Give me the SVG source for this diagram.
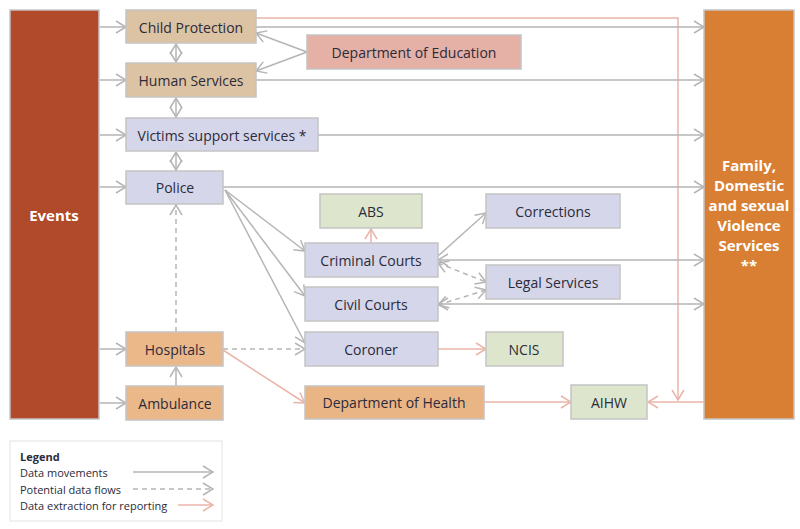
<svg xmlns="http://www.w3.org/2000/svg" width="800" height="529" viewBox="0 0 800 529">
<style>
text{font-family:"Open Sans","Noto Sans",sans-serif;font-size:14px;fill:#2b2b3a;text-anchor:middle;dominant-baseline:central}
.n{stroke:#c4c4c4;stroke-width:1.5}
.g{stroke:#b5b5b5;stroke-width:1.5;fill:none}
.d{stroke:#b5b5b5;stroke-width:1.5;fill:none;stroke-dasharray:5 4}
.p{stroke:#eab5a8;stroke-width:1.5;fill:none}
.big{fill:#fff;font-weight:bold;font-size:15px}
.lg{font-size:11px;text-anchor:start}
</style>
<defs>
<marker id="a" markerWidth="12" markerHeight="14" refX="11" refY="7" orient="auto-start-reverse" markerUnits="userSpaceOnUse"><path d="M1,1 L11,7 L1,13" fill="none" stroke="#b5b5b5" stroke-width="1.5"/></marker>
<marker id="ap" markerWidth="12" markerHeight="14" refX="11" refY="7" orient="auto-start-reverse" markerUnits="userSpaceOnUse"><path d="M1,1 L11,7 L1,13" fill="none" stroke="#eab5a8" stroke-width="1.5"/></marker>
</defs>
<g id="events"><rect class="n" x="10" y="10" width="89" height="409" fill="#b04a2a"/><text class="big" x="54" y="215">Events</text></g>
<g id="fdsv"><rect class="n" x="704" y="10" width="90" height="409" fill="#d97f33"/>
<text class="big" x="749" y="165">Family,</text><text class="big" x="749" y="185">Domestic</text><text class="big" x="749" y="205">and sexual</text><text class="big" x="749" y="225">Violence</text><text class="big" x="749" y="245">Services</text><text class="big" x="749" y="265">**</text></g>
<g id="connectors">
<path class="p" d="M256,18 H678 V400" marker-end="url(#ap)"/>
<path class="g" d="M100,27 H126" marker-end="url(#a)"/>
<path class="g" d="M100,80 H126" marker-end="url(#a)"/>
<path class="g" d="M100,135 H126" marker-end="url(#a)"/>
<path class="g" d="M100,187 H126" marker-end="url(#a)"/>
<path class="g" d="M100,349 H126" marker-end="url(#a)"/>
<path class="g" d="M100,403 H126" marker-end="url(#a)"/>
<path class="g" d="M256,27 H704" marker-end="url(#a)"/>
<path class="g" d="M256,80 H704" marker-end="url(#a)"/>
<path class="g" d="M318,135 H704" marker-end="url(#a)"/>
<path class="g" d="M223,187 H704" marker-end="url(#a)"/>
<path class="g" d="M438,260 H704" marker-start="url(#a)" marker-end="url(#a)"/>
<path class="g" d="M438,304 H704" marker-start="url(#a)" marker-end="url(#a)"/>
<path class="g" d="M307,52 L256,33" marker-end="url(#a)"/>
<path class="g" d="M307,52 L256,71" marker-end="url(#a)"/>
<path class="g" d="M176,44 V62" marker-start="url(#a)" marker-end="url(#a)"/>
<path class="g" d="M176,98 V117" marker-start="url(#a)" marker-end="url(#a)"/>
<path class="g" d="M176,152 V170" marker-start="url(#a)" marker-end="url(#a)"/>
<path class="g" d="M225,190 L305,251" marker-end="url(#a)"/>
<path class="g" d="M225,190 L305,296" marker-end="url(#a)"/>
<path class="g" d="M225,190 L305,343" marker-end="url(#a)"/>
<path class="d" d="M176,332 V205" marker-end="url(#a)"/>
<path class="g" d="M176,386 V367" marker-end="url(#a)"/>
<path class="d" d="M223,349 H305" marker-end="url(#a)"/>
<path class="p" d="M223,350 L305,403" marker-end="url(#ap)"/>
<path class="p" d="M371,243 V229" marker-end="url(#ap)"/>
<path class="g" d="M438,256 L486,213" marker-end="url(#a)"/>
<path class="d" d="M438,263 L486,282" marker-start="url(#a)" marker-end="url(#a)"/>
<path class="d" d="M438,305 L486,290" marker-start="url(#a)" marker-end="url(#a)"/>
<path class="p" d="M438,349 H486" marker-end="url(#ap)"/>
<path class="p" d="M484,402 H571" marker-end="url(#ap)"/>
<path class="p" d="M704,402 H648" marker-end="url(#ap)"/>
</g>
<g id="child"><rect class="n" x="126" y="10" width="130" height="33" fill="#dcc3a3"/><text x="191" y="27">Child Protection</text></g>
<g id="human"><rect class="n" x="126" y="63" width="130" height="34" fill="#dcc3a3"/><text x="191" y="80">Human Services</text></g>
<g id="victims"><rect class="n" x="126" y="118" width="192" height="33" fill="#d5d6ea"/><text x="222" y="135">Victims support services *</text></g>
<g id="police"><rect class="n" x="126" y="171" width="97" height="33" fill="#d5d6ea"/><text x="175" y="187">Police</text></g>
<g id="edu"><rect class="n" x="307" y="35" width="214" height="34" fill="#e5b0a5"/><text x="414" y="52">Department of Education</text></g>
<g id="abs"><rect class="n" x="320" y="194" width="102" height="34" fill="#dde6cd"/><text x="371" y="211">ABS</text></g>
<g id="corrections"><rect class="n" x="486" y="194" width="134" height="34" fill="#d5d6ea"/><text x="553" y="211">Corrections</text></g>
<g id="criminal"><rect class="n" x="305" y="243" width="133" height="34" fill="#d5d6ea"/><text x="371" y="260">Criminal Courts</text></g>
<g id="legal"><rect class="n" x="486" y="265" width="134" height="34" fill="#d5d6ea"/><text x="553" y="282">Legal Services</text></g>
<g id="civil"><rect class="n" x="305" y="287" width="133" height="34" fill="#d5d6ea"/><text x="371" y="304">Civil Courts</text></g>
<g id="coroner"><rect class="n" x="305" y="332" width="133" height="34" fill="#d5d6ea"/><text x="371" y="349">Coroner</text></g>
<g id="ncis"><rect class="n" x="486" y="332" width="77" height="34" fill="#dde6cd"/><text x="524" y="349">NCIS</text></g>
<g id="hospitals"><rect class="n" x="126" y="332" width="97" height="34" fill="#ebb88a"/><text x="175" y="349">Hospitals</text></g>
<g id="ambulance"><rect class="n" x="126" y="386" width="97" height="34" fill="#ebb88a"/><text x="175" y="403">Ambulance</text></g>
<g id="health"><rect class="n" x="305" y="386" width="179" height="33" fill="#eab585"/><text x="394" y="402">Department of Health</text></g>
<g id="aihw"><rect class="n" x="571" y="385" width="76" height="34" fill="#dde6cd"/><text x="609" y="402">AIHW</text></g>
<g id="legend"><rect x="10" y="441" width="212" height="80" fill="#fff" stroke="#e4e4e4"/>
<text class="lg" x="20" y="456" font-weight="bold">Legend</text>
<text class="lg" x="20" y="472">Data movements</text>
<text class="lg" x="20" y="489">Potential data flows</text>
<text class="lg" x="20" y="505">Data extraction for reporting</text>
<path class="g" d="M133,472 H213" marker-end="url(#a)"/>
<path class="d" d="M133,489 H213" marker-end="url(#a)"/>
<path class="p" d="M178,505 H213" marker-end="url(#ap)"/>
</g>
</svg>
